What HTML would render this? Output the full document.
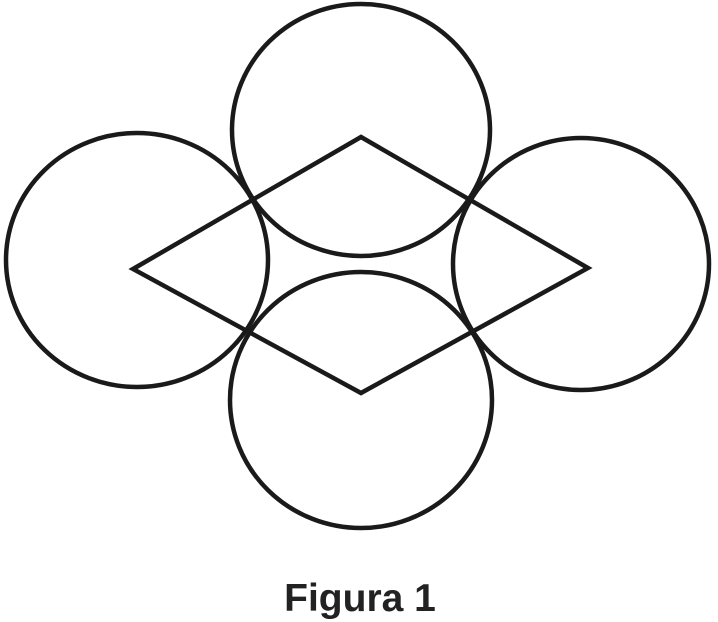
<!DOCTYPE html>
<html><head><style>
html,body{margin:0;padding:0;background:#fff;width:718px;height:622px;overflow:hidden}
svg{display:block}
</style></head><body>
<svg width="718" height="622" viewBox="0 0 718 622" xmlns="http://www.w3.org/2000/svg">
<g fill="none" stroke="#1a1a1a" stroke-width="4.5">
<ellipse cx="361" cy="130" rx="129" ry="126"/>
<ellipse cx="137" cy="260" rx="131" ry="127"/>
<ellipse cx="581" cy="264" rx="128" ry="126"/>
<ellipse cx="361" cy="400" rx="131" ry="128"/>
<polygon points="361,137 588,268 361,393 133,269" stroke-linejoin="miter"/>
</g>
<text x="360" y="611" text-anchor="middle" font-family="Liberation Sans, sans-serif" font-weight="bold" font-size="39" fill="#222">Figura 1</text>
</svg>
</body></html>
